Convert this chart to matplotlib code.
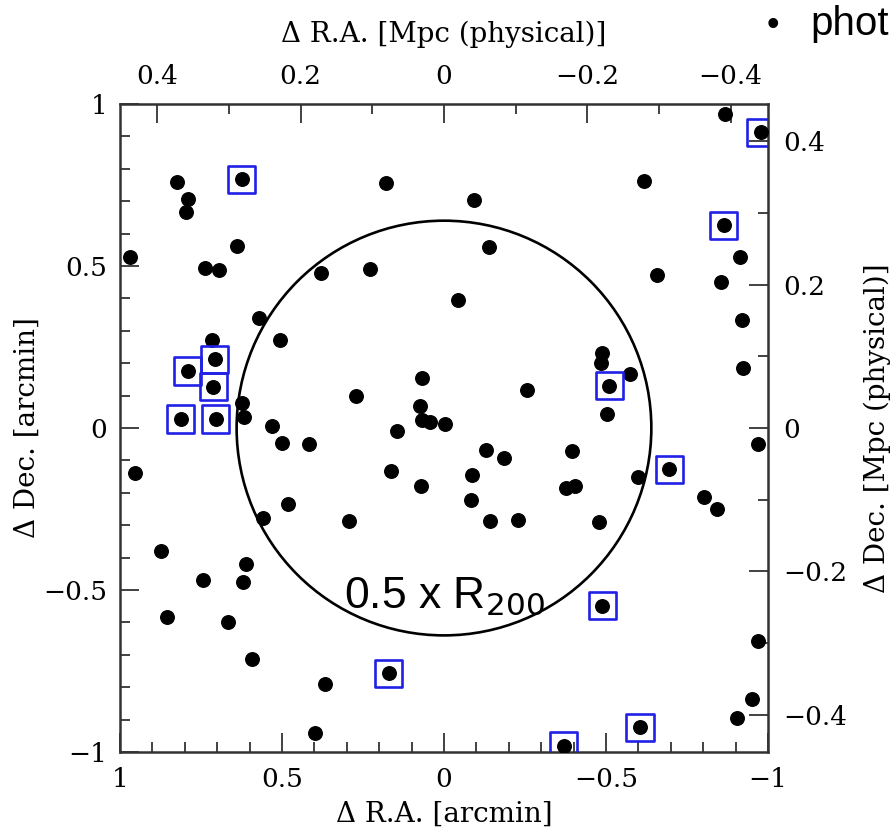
import matplotlib.pyplot as plt
from matplotlib.patches import Circle
from matplotlib.ticker import MultipleLocator, FuncFormatter

# galaxy positions, offsets from cluster centre [arcmin]
ra = [0.825, 0.791, 0.796, 0.624, 0.179, 0.638, 0.970, 0.738, 0.693, 0.380,
      0.228, 0.570, 0.506, 0.716, 0.708, 0.791, 0.712, 0.813, 0.704, 0.622,
      0.618, 0.532, 0.069, 0.273, 0.074, 0.069, 0.043, -0.003, 0.146,
      -0.867, -0.977, -0.618, -0.094, -0.863, -0.914, -0.140, -0.656, -0.854,
      -0.044, -0.920, -0.489, -0.485, -0.574, -0.510, -0.255, -0.924, -0.502,
      0.954, 0.501, 0.416, 0.164, 0.072, 0.482, 0.558, 0.292, 0.873, 0.611,
      0.745, 0.619, 0.856, 0.666, 0.594, 0.170, 0.366, 0.398,
      -0.130, -0.185, -0.087, -0.082, -0.142, -0.227, -0.395, -0.377, -0.404,
      -0.479, -0.600, -0.695, -0.803, -0.842, -0.970, -0.489, -0.970, -0.950,
      -0.905, -0.605, -0.370]
dec = [0.760, 0.707, 0.666, 0.768, 0.755, 0.561, 0.527, 0.495, 0.487, 0.479,
       0.492, 0.340, 0.271, 0.272, 0.212, 0.176, 0.127, 0.028, 0.028, 0.076,
       0.035, 0.006, 0.155, 0.099, 0.069, 0.025, 0.019, 0.012, -0.010,
       0.969, 0.913, 0.764, 0.704, 0.626, 0.529, 0.559, 0.471, 0.450,
       0.395, 0.334, 0.231, 0.200, 0.167, 0.130, 0.117, 0.184, 0.042,
       -0.138, -0.047, -0.048, -0.132, -0.178, -0.233, -0.277, -0.287, -0.380,
       -0.420, -0.469, -0.476, -0.582, -0.599, -0.714, -0.757, -0.791, -0.942,
       -0.068, -0.091, -0.145, -0.222, -0.287, -0.284, -0.071, -0.184, -0.178,
       -0.289, -0.152, -0.127, -0.214, -0.251, -0.049, -0.548, -0.657, -0.836,
       -0.894, -0.924, -0.981]

# spectroscopic members (blue boxes)
ra_box = [0.624, 0.708, 0.791, 0.712, 0.813, 0.704, -0.977, -0.863, -0.510,
          0.170, -0.695, -0.489, -0.605, -0.370]
dec_box = [0.768, 0.212, 0.176, 0.127, 0.028, 0.028, 0.913, 0.626, 0.130,
           -0.757, -0.127, -0.548, -0.924, -0.981]

r200_half = 0.64
mpc_per_arcmin = 0.452

serif = 'DejaVu Serif'
fs_tick = 19
fs_lab = 20


def fmt(v, pos):
    return ('%g' % round(v, 3)).replace('-', '\u2212')


fig = plt.figure(figsize=(8.9, 8.33), dpi=100)
ax = fig.add_axes([0.1348, 0.0972, 0.7281, 0.7779])

ax.add_patch(Circle((0, 0), r200_half, fill=False, color='black', lw=1.9))
ax.scatter(ra, dec, s=95, color='black', zorder=3)
ax.scatter(ra_box, dec_box, s=380, marker='s', facecolor='none',
           edgecolor='#2020e6', linewidth=1.9, zorder=4)

ax.set_xlim(1, -1)
ax.set_ylim(-1, 1)

ax.xaxis.set_major_locator(MultipleLocator(0.5))
ax.xaxis.set_minor_locator(MultipleLocator(0.1))
ax.yaxis.set_major_locator(MultipleLocator(0.5))
ax.yaxis.set_minor_locator(MultipleLocator(0.1))
ax.xaxis.set_major_formatter(FuncFormatter(fmt))
ax.yaxis.set_major_formatter(FuncFormatter(fmt))
ax.tick_params(which='both', direction='in', top=False, right=False,
               width=1.3, colors='#333333', labelcolor='black',
               labelsize=fs_tick)
ax.tick_params(which='major', length=14)
ax.tick_params(which='minor', length=7)
ax.tick_params(axis='x', which='major', pad=11)
ax.tick_params(axis='y', which='major', pad=9)
for lab in ax.get_xticklabels() + ax.get_yticklabels():
    lab.set_family(serif)
for sp in ax.spines.values():
    sp.set_linewidth(1.8)
    sp.set_color('#333333')

ax.set_xlabel('\u0394 R.A. [arcmin]', fontsize=fs_lab, family=serif, labelpad=6)
ax.set_ylabel('\u0394 Dec. [arcmin]', fontsize=fs_lab, family=serif, labelpad=2)

secx = ax.secondary_xaxis('top', functions=(lambda x: x * mpc_per_arcmin,
                                            lambda x: x / mpc_per_arcmin))
secy = ax.secondary_yaxis('right', functions=(lambda y: y * mpc_per_arcmin,
                                              lambda y: y / mpc_per_arcmin))
secx.set_ticks([0.4, 0.2, 0, -0.2, -0.4])
secy.set_ticks([0.4, 0.2, 0, -0.2, -0.4])
secx.xaxis.set_minor_locator(MultipleLocator(0.1))
secy.yaxis.set_minor_locator(MultipleLocator(0.1))
for sa in (secx, secy):
    sa.tick_params(which='both', direction='in', width=1.3, colors='#333333',
                   labelcolor='black', labelsize=fs_tick)
    sa.tick_params(which='major', length=14, pad=11)
    sa.tick_params(which='minor', length=7)
secx.xaxis.set_major_formatter(FuncFormatter(fmt))
secy.yaxis.set_major_formatter(FuncFormatter(fmt))
for lab in secx.get_xticklabels() + secy.get_yticklabels():
    lab.set_family(serif)
secx.set_xlabel('\u0394 R.A. [Mpc (physical)]', fontsize=fs_lab, family=serif,
                labelpad=16)
secy.set_ylabel('\u0394 Dec. [Mpc (physical)]', fontsize=fs_lab, family=serif,
                labelpad=12)

ax.text(0.0, -0.52, '0.5 x R$_{200}$', fontsize=32, family='Liberation Sans',
        ha='center', va='center', zorder=5)

fig.text(767 / 890, 1 - 35 / 833, '\u2022', fontsize=26,
         family='Liberation Sans', ha='left', va='baseline')
fig.text(810 / 890, 1 - 35 / 833, 'phot', fontsize=29,
         family='Liberation Sans', ha='left', va='baseline')

fig.savefig('out.png', dpi=100)
